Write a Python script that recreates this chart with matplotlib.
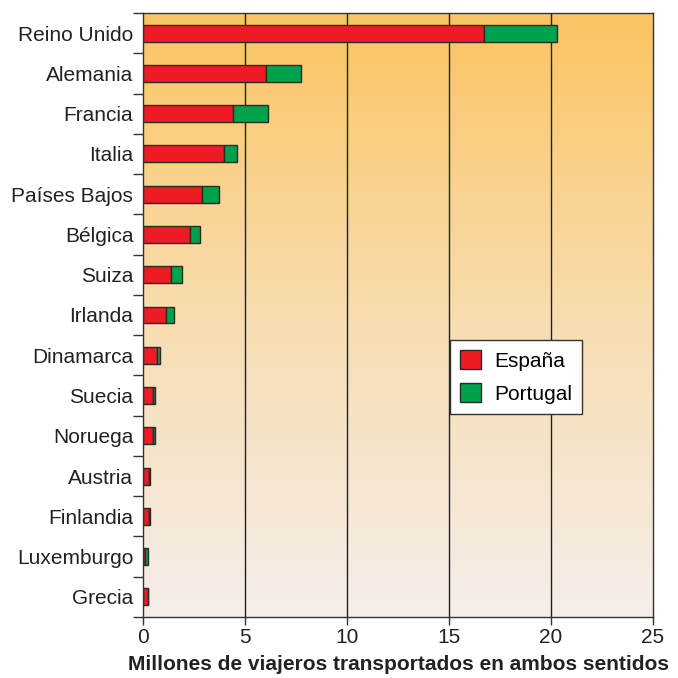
import numpy as np
import matplotlib
matplotlib.use("Agg")
import matplotlib.pyplot as plt
from matplotlib.colors import LinearSegmentedColormap
from matplotlib.patches import Patch

plt.rcParams['font.family'] = ['Liberation Sans', 'DejaVu Sans']

paises = ["Reino Unido", "Alemania", "Francia", "Italia", "Países Bajos", "Bélgica",
          "Suiza", "Irlanda", "Dinamarca", "Suecia", "Noruega", "Austria",
          "Finlandia", "Luxemburgo", "Grecia"]
espana = [16.7, 6.03, 4.41, 3.97, 2.91, 2.29, 1.36, 1.11, 0.67, 0.47, 0.47, 0.30, 0.30, 0.11, 0.23]
portugal = [3.6, 1.72, 1.72, 0.65, 0.83, 0.49, 0.57, 0.39, 0.16, 0.12, 0.10, 0.03, 0.03, 0.14, 0.02]
xticks = [0, 5, 10, 15, 20, 25]

RED = "#ED1C24"
GREEN = "#00A14B"
EDGE = "#2b2b2b"
FS = 15

fig = plt.figure(figsize=(6.78, 6.78), dpi=100)
ax = fig.add_axes([143/678, 1-617/678, 510/678, 604/678])

n = len(paises)
y = np.arange(n)[::-1]

# gradient background
cmap = LinearSegmentedColormap.from_list("bg", ["#F5EEEA", "#F8DDB0", "#FCC462"])
grad = np.linspace(0, 1, 256).reshape(-1, 1)
ax.imshow(grad, extent=[0, 25, -0.5, n-0.5], origin="lower", aspect="auto",
          cmap=cmap, zorder=0)

for xv in xticks[1:-1]:
    ax.axvline(xv, color="#222222", lw=1.0, zorder=1)

h = 0.42
ax.barh(y, espana, height=h, color=RED, edgecolor=EDGE, linewidth=1.0, zorder=3)
ax.barh(y, portugal, left=espana, height=h, color=GREEN, edgecolor=EDGE, linewidth=1.0, zorder=3)

ax.set_xlim(0, 25)
ax.set_ylim(-0.5, n-0.5)
ax.set_xticks(xticks)
ax.set_xticklabels([str(t) for t in xticks], fontsize=FS, color="#222222")
ax.set_yticks(y)
ax.set_yticklabels(paises, fontsize=FS, color="#222222")
ax.tick_params(axis="y", which="major", length=0, pad=7)
ax.set_yticks(np.arange(-0.5, n, 1.0), minor=True)
ax.tick_params(axis="y", which="minor", length=7, width=1.0, color="#333333", direction="out")
ax.tick_params(axis="x", length=6, width=1.0, color="#333333", direction="out", pad=2)

for s in ax.spines.values():
    s.set_color("#333333")
    s.set_linewidth(1.0)
    s.set_zorder(5)

ax.set_xlabel("Millones de viajeros transportados en ambos sentidos", fontsize=FS,
              fontweight="bold", color="#222222", labelpad=6)

handles = [Patch(facecolor=RED, edgecolor=EDGE, label="España"),
           Patch(facecolor=GREEN, edgecolor=EDGE, label="Portugal")]
leg = ax.legend(handles=handles, loc="upper left", bbox_to_anchor=((450-143)/510, (617-340)/604),
                fontsize=FS, frameon=True, fancybox=False, framealpha=1,
                edgecolor="#333333", handlelength=1.0, handleheight=1.0,
                borderpad=0.5, labelspacing=0.6, handletextpad=0.6, borderaxespad=0)
leg.get_frame().set_linewidth(1.0)
leg.set_zorder(6)

fig.savefig("out.png", dpi=100)
